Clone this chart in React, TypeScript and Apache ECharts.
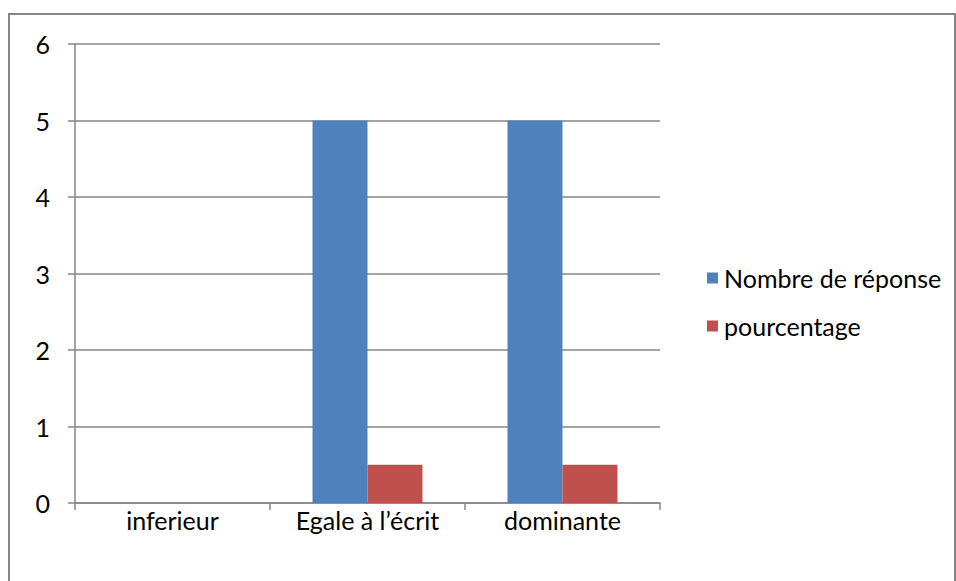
import React, { useEffect, useRef } from "react";
import * as echarts from "echarts";

const categories = ["inferieur", "Egale à l\u2019écrit", "dominante"];
const nombreDeReponse = [0, 5, 5];
const pourcentage = [0, 0.5, 0.5];
const seriesNames = ["Nombre de réponse", "pourcentage"];

export default function App() {
  const ref = useRef<HTMLDivElement>(null);
  useEffect(() => {
    document.body.style.margin = "0";
    const chart = echarts.init(ref.current!, null, { renderer: "svg" });
    const font = "Lato, 'Open Sans', sans-serif";
    chart.setOption({
      animation: false,
      backgroundColor: "#ffffff",
      textStyle: { fontFamily: font },
      grid: { left: 75, top: 44, width: 585, height: 459, containLabel: false },
      graphic: [
        {
          type: "rect",
          shape: { x: 9, y: 14, width: 946, height: 600 },
          style: { fill: "none", stroke: "#868686", lineWidth: 2 },
          silent: true,
        },
      ],
      legend: {
        orient: "vertical",
        left: 707,
        top: 263,
        padding: 0,
        itemWidth: 11,
        itemHeight: 11,
        itemGap: 18,
        icon: "rect",
        data: seriesNames,
        textStyle: { fontFamily: font, fontSize: 25, color: "#000", lineHeight: 30, padding: [0, 0, 0, 1] },
      },
      xAxis: {
        type: "category",
        data: categories,
        axisLine: { lineStyle: { color: "#868686", width: 1.5 } },
        axisTick: { show: true, length: 7, alignWithLabel: false, lineStyle: { color: "#868686", width: 1.5 } },
        axisLabel: { fontFamily: font, fontSize: 25, color: "#000", margin: 4 },
        splitLine: { show: false },
      },
      yAxis: {
        type: "value",
        min: 0,
        max: 6,
        interval: 1,
        axisLine: { show: true, lineStyle: { color: "#868686", width: 1.5 } },
        axisTick: { show: true, length: 7, inside: false, lineStyle: { color: "#868686", width: 1.5 } },
        axisLabel: { fontFamily: font, fontSize: 25, color: "#000", margin: 25 },
        splitLine: { show: true, lineStyle: { color: "#868686", width: 1.5 } },
      },
      series: [
        {
          name: seriesNames[0],
          type: "bar",
          data: nombreDeReponse,
          barWidth: 55,
          barGap: "0%",
          itemStyle: { color: "#4F81BD" },
        },
        {
          name: seriesNames[1],
          type: "bar",
          data: pourcentage,
          barWidth: 55,
          barGap: "0%",
          itemStyle: { color: "#C0504D" },
        },
      ],
    });
    return () => chart.dispose();
  }, []);
  return <div ref={ref} style={{ width: 956, height: 581 }} />;
}
